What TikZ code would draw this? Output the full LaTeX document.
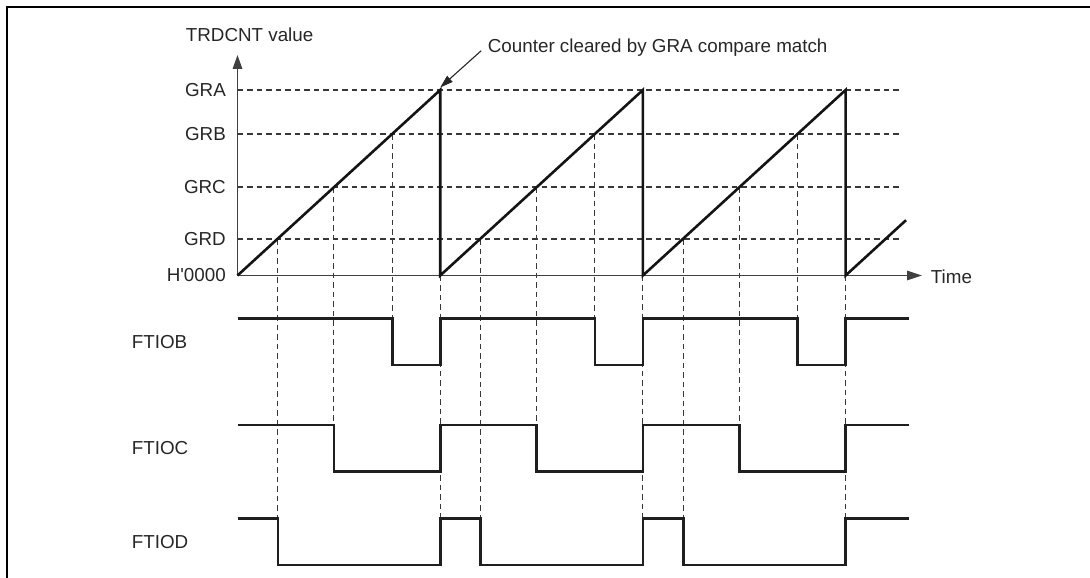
\documentclass[tikz,border=0pt]{standalone}
\usepackage{fontspec}
\setmainfont{Liberation Sans}
\usetikzlibrary{arrows.meta}
\begin{document}
\begin{tikzpicture}[x=1pt,y=-1pt,
  lbl/.style={font=\fontsize{18.8}{21}\selectfont, inner sep=0pt, text=black!85},
  frameline/.style={line width=2.5pt, draw=black},
  axisline/.style={line width=1.6pt, draw=black!75},
  saw/.style={line width=2.6pt, draw=black!92},
  wave/.style={line width=2.6pt, draw=black!88},
  guide/.style={line width=1.1pt, draw=black!78, dash pattern=on 5.5pt off 4pt},
  pointer/.style={line width=1.1pt, draw=black!85, -{Triangle[length=13pt,width=8pt]}}]
\useasboundingbox (0,0) rectangle (1090,578);
% frame
\draw[frameline] (7,578) -- (7,7) -- (1090,7);

% key coordinates
\coordinate (O) at (237.5,275.5);
\coordinate (Ytip) at (237.5,55);
\coordinate (Xtip) at (922,275.5);
\coordinate (P1) at (440.2,90);
\coordinate (P2) at (642.9,90);
\coordinate (P3) at (845.6,90);
\coordinate (Z1) at (440.2,275.5);
\coordinate (Z2) at (642.9,275.5);
\coordinate (Z3) at (845.6,275.5);
\coordinate (Rend) at (906,220.2);

% horizontal guide lines
\foreach \yy in {90,134,187,239}{
  \draw[guide] (237.5,\yy) -- (901,\yy);
}
% vertical guide lines
\foreach \s in {237.5,440.2,642.9}{
  \draw[guide] ({\s+154.7},134) -- ({\s+154.7},318.5);
  \draw[guide] ({\s+96.3},187) -- ({\s+96.3},425);
  \draw[guide] ({\s+40.3},239) -- ({\s+40.3},518.7);
}
\foreach \s in {440.2,642.9,845.6}{
  \draw[guide] (\s,275.5) -- (\s,518.7);
}

% axes
\draw[axisline, -{Triangle[length=14pt,width=9.5pt]}] (O) -- (Ytip);
\draw[axisline, -{Triangle[length=15pt,width=9.5pt]}] (O) -- (Xtip);

% sawtooth
\draw[saw] (O) -- (P1) -- (Z1) -- (P2) -- (Z2) -- (P3) -- (Z3) -- (Rend);

% labels
\node[lbl, anchor=west] (ylabel) at (185.7,35) {TRDCNT value};
\node[lbl, anchor=east] (lgra) at (226,90) {GRA};
\node[lbl, anchor=east] (lgrb) at (226,134) {GRB};
\node[lbl, anchor=east] (lgrc) at (226,187) {GRC};
\node[lbl, anchor=east] (lgrd) at (226,239) {GRD};
\node[lbl, anchor=east] (lzero) at (226,275.5) {H\textquotesingle 0000};
\node[lbl, anchor=west] (ltime) at (930.7,276.5) {Time};
\node[lbl, anchor=base west] (note) at (487.7,52.7) {Counter cleared by GRA compare match};
\draw[pointer] ([shift={(-6.5,-2)}]note.base west) -- ([shift={(0,-2.5)}]P1);

\node[lbl, anchor=west] (lb) at (131.7,342) {FTIOB};
\node[lbl, anchor=west] (lc) at (131.7,448) {FTIOC};
\node[lbl, anchor=west] (ld) at (131.7,542) {FTIOD};

% waveforms
\def\bh{318.5}\def\bl{365}
\draw[wave] (237.5,\bh) -- (392.2,\bh) -- (392.2,\bl) -- (440.2,\bl) -- (440.2,\bh)
  -- (594.9,\bh) -- (594.9,\bl) -- (642.9,\bl) -- (642.9,\bh)
  -- (797.6,\bh) -- (797.6,\bl) -- (845.6,\bl) -- (845.6,\bh) -- (909,\bh);
\def\ch{425}\def\cl{471.3}
\draw[wave] (237.5,\ch) -- (333.8,\ch) -- (333.8,\cl) -- (440.2,\cl) -- (440.2,\ch)
  -- (536.5,\ch) -- (536.5,\cl) -- (642.9,\cl) -- (642.9,\ch)
  -- (739.2,\ch) -- (739.2,\cl) -- (845.6,\cl) -- (845.6,\ch) -- (909,\ch);
\def\dh{518.7}\def\dl{565}
\draw[wave] (237.5,\dh) -- (277.8,\dh) -- (277.8,\dl) -- (440.2,\dl) -- (440.2,\dh)
  -- (480.5,\dh) -- (480.5,\dl) -- (642.9,\dl) -- (642.9,\dh)
  -- (683.2,\dh) -- (683.2,\dl) -- (845.6,\dl) -- (845.6,\dh) -- (909,\dh);
\end{tikzpicture}
\end{document}
